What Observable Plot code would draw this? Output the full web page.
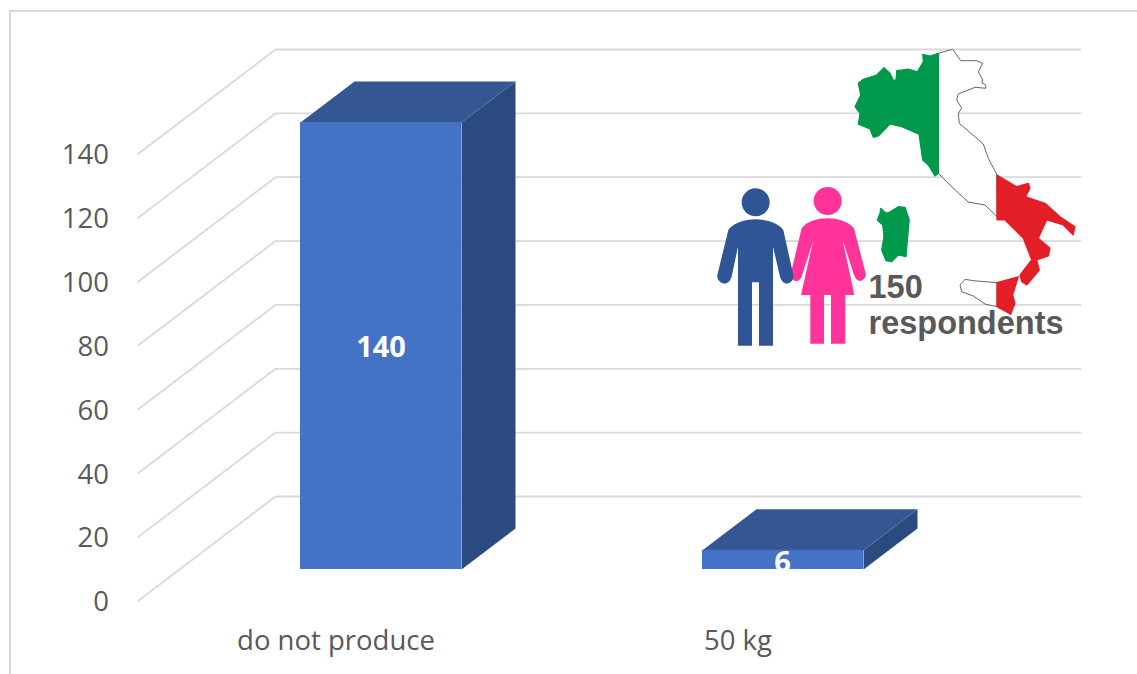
<!DOCTYPE html>
<html>
<head>
<meta charset="utf-8">
<script src="https://cdn.jsdelivr.net/npm/d3@7"></script>
<script src="https://cdn.jsdelivr.net/npm/@observablehq/plot@0.6"></script>
<style>
  html, body { margin: 0; padding: 0; background: #fff; overflow: hidden; }
  svg { display: block; }
</style>
</head>
<body>
<div id="chart"></div>
<script>
// Survey answers
const categories = ["do not produce", "50 kg"];
const values = [140, 6];
const tickValues = [0, 20, 40, 60, 80, 100, 120, 140];
const noteLines = "150\nrespondents";

// Oblique view of the chart box, in floor units and value units
const barLeft = [300, 702];
const barWidth = 161;
const barDx = 54;
const barRise = 12.84;     // vertical depth of a bar, in value units
const barLift = 9.87;      // how far the front of a bar sits above the front floor edge
const wallX = [137.5, 275, 1080];
const wallRise = 32.73;    // vertical depth of the whole box, in value units
const labelShift = -45;

const colors = {front: "#4472c4", top: "#345794", side: "#2a4a80", grid: "#d9d9d9", text: "#595959"};

const bars = categories.map((name, i) => ({name, value: values[i], x: barLeft[i]}));

const grid = tickValues.flatMap((v) => [
  {tick: v, x: wallX[0], y: v},
  {tick: v, x: wallX[1], y: v + wallRise},
  {tick: v, x: wallX[2], y: v + wallRise}
]);

const faces = (pick) => bars.flatMap((b) => pick(b).map(([x, y]) => ({name: b.name, x, y})));
const topFaces = faces((b) => {
  const t = b.value + barLift;
  return [[b.x, t], [b.x + barWidth, t], [b.x + barWidth + barDx, t + barRise], [b.x + barDx, t + barRise]];
});
const sideFaces = faces((b) => {
  const t = b.value + barLift, r = b.x + barWidth;
  return [[r, barLift], [r + barDx, barLift + barRise], [r + barDx, t + barRise], [r, t]];
});

// Outline of Italy, split into the three flag bands
const northGreen = [[938.3,53.3],[930,56],[922.7,54.3],[923.3,61.7],[917.3,71.7],[908.3,69],[896.7,70.7],[896,80],[893.3,80],[890,73.3],[884,67.7],[876.7,75],[863.3,79.3],[858.3,83.3],[860.7,95],[855,106.7],[860,113.3],[858.3,124.3],[870,129],[873.3,137.3],[878.3,136],[890,124],[901.7,126.7],[919,134.3],[922.7,160],[928.3,165],[935,176],[938.3,173.3]];
const centreWhite = [[938.3,53.3],[952.7,49.3],[960.7,60.7],[976.7,60.7],[982.7,63.3],[978.3,71.7],[982.7,80],[981.7,82.7],[985.7,85],[985.7,88.3],[975,87.3],[958.3,94],[956.7,100],[961.7,108.3],[958.3,113.3],[959.3,123.3],[983.3,144],[988.3,158.3],[996.7,174],[997,216.7],[985,205],[968,202],[948,183],[940,175],[938.3,173.3]];
const southRed = [[997,175],[1016.7,186.7],[1028.3,183.3],[1030,188.3],[1025.7,196.7],[1045,203.3],[1060,216.7],[1075,226.7],[1073.3,235],[1063.3,225],[1046.7,220],[1038.3,238.3],[1050,248.3],[1048.3,256],[1036.7,260],[1039.3,270],[1026.7,285],[1021.7,281.7],[1020,275],[1025,268.3],[1031.7,260],[1023.3,238.3],[1005,220],[997,220]];
const sicilyRed = [[997,282.7],[1018.3,276.7],[1012.7,295],[1015,303.3],[1010.7,314.3],[997,306.7]];
const sicilyWhite = [[997,282.7],[973.3,280.7],[965,279.3],[960,285],[961.7,291.7],[973.3,296],[985,304],[997,306.7]];
const sardinia = [[880.7,208.3],[880,213.3],[877.3,220],[882.7,225],[884,236.7],[881.7,250],[886,260.7],[891.7,261.7],[898.3,255],[906,256.7],[908.3,230],[909.3,220],[905,207.3],[898.3,206.7],[890,211.7],[886,213.3]];

// Pictograms of the respondents, drawn in their own local units
const manBody = "M167,133C125,133 95,150 85,165L52,300Q50,320 72,326Q88,326 95,305L114,215L114,512L156,512L156,322L177,322L177,512L219,512L219,215L240,305Q247,326 262,326Q283,320 280,300L250,165C240,150 210,133 167,133Z";
const womanBody = "M383,130C350,130 320,140 305,160L275,285Q270,310 285,318Q297,320 305,305L340,195L303,360L331,360L331,506L372,506L372,360L393,360L393,506L436,506L436,360L463,360L428,195L462,300Q470,318 480,318Q500,312 497,295L462,160C445,140 415,130 383,130Z";

// Decorative shapes share the page's own pixel space
function illustration() {
  const g = d3.create("svg:g");
  const land = (points, fill, stroke) => g.append("path")
    .attr("d", "M" + points.map((p) => p.join(",")).join("L") + "Z")
    .attr("fill", fill)
    .attr("stroke", stroke)
    .attr("stroke-width", stroke === "#555555" ? 0.9 : 1.2)
    .attr("stroke-linejoin", "round");
  land(centreWhite, "#ffffff", "#555555");
  land(sicilyWhite, "#ffffff", "#555555");
  land(northGreen, "#00984a", "#00984a");
  land(sardinia, "#00984a", "#00984a");
  land(southRed, "#e31e26", "#e31e26");
  land(sicilyRed, "#e31e26", "#e31e26");

  const people = g.append("g").attr("transform", "translate(700,175) scale(0.3333)");
  people.append("circle").attr("cx", 383).attr("cy", 78).attr("r", 42).attr("fill", "#ff3399");
  people.append("path").attr("d", womanBody).attr("fill", "#ff3399");
  people.append("circle").attr("cx", 167).attr("cy", 82).attr("r", 42).attr("fill", "#2f5597");
  people.append("path").attr("d", manBody).attr("fill", "#2f5597");
  return g.node();
}

const chart = Plot.plot({
  width: 1137,
  height: 674,
  margin: 0,
  style: {background: "#ffffff", fontFamily: "'Open Sans', sans-serif"},
  x: {domain: [0, 1137], range: [0, 1137], axis: null},
  y: {domain: [-23.02, 188.07], range: [674, 0], axis: null},
  marks: [
    // Outer chart border
    Plot.ruleX([9.5], {y1: -23.02, y2: 185, stroke: colors.grid, strokeWidth: 2}),
    Plot.ruleY([184.8], {x1: 9.5, x2: 1137, stroke: colors.grid, strokeWidth: 2}),

    // Side wall and back wall gridlines
    Plot.line(grid, {x: "x", y: "y", z: "tick", stroke: colors.grid, strokeWidth: 1.8}),

    // Value and category labels
    Plot.axisY(tickValues, {anchor: "left", x: 108.5, dy: 1.5, tickSize: 0, tickPadding: 0, label: null, fontSize: 27.5, fill: colors.text, textAnchor: "end"}),
    Plot.text(bars, {x: (d) => d.x + barWidth / 2 + labelShift, y: -12.7, text: "name", fontSize: 27.5, fill: colors.text}),

    // Bars: side, top, then front
    Plot.line(sideFaces, {x: "x", y: "y", z: "name", fill: colors.side, stroke: null}),
    Plot.line(topFaces, {x: "x", y: "y", z: "name", fill: colors.top, stroke: null}),
    Plot.rect(bars, {x1: "x", x2: (d) => d.x + barWidth, y1: barLift, y2: (d) => d.value + barLift, fill: colors.front}),

    // Data labels, with the small one cut at the foot of its bar
    Plot.text(bars, {x: (d) => d.x + barWidth / 2 + (d.value > 20 ? 0 : -0.5), y: (d) => d.value > 20 ? d.value / 2 + barLift - 0.6 : 12, text: "value", fontSize: 29, fontWeight: 700, fill: "#ffffff"}),
    Plot.rect([bars[1]], {x1: (d) => d.x + 60, x2: (d) => d.x + 100, y1: barLift - 3, y2: barLift, fill: "#ffffff"}),

    illustration,

    Plot.text([noteLines], {x: 868, y: 92.8, text: (d) => d, textAnchor: "start", fontFamily: "'Liberation Sans', Arial, sans-serif", fontSize: 32.5, fontWeight: 700, lineHeight: 1.11, fill: colors.text})
  ]
});
document.getElementById("chart").append(chart);
</script>
</body>
</html>
